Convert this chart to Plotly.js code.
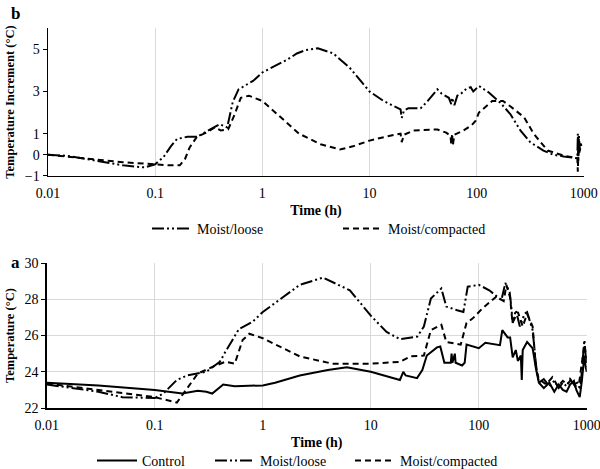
<!DOCTYPE html>
<html>
<head>
<meta charset="utf-8">
<script src="https://cdn.plot.ly/plotly-3.0.1.min.js"></script>
<style>
  body { margin: 0; background: #fff; }
  #chart { width: 600px; height: 469px; }
</style>
</head>
<body>
<div id="chart"></div>
<script>
// panel b: temperature increment
const timeLooseB = [0.01, 0.015, 0.02, 0.03, 0.05, 0.08, 0.1, 0.12, 0.14, 0.16, 0.2, 0.245, 0.3, 0.4, 0.47, 0.53, 0.6, 0.7, 0.82, 1, 1.3, 1.7, 2.1, 2.5, 3.3, 4.6, 6.6, 10, 13.5, 19.5, 20, 21, 23, 30, 35, 43, 47, 55, 58, 59, 62, 66, 71, 81, 88, 93, 105, 130, 166, 206, 257, 317, 420, 520, 650, 870, 880, 890, 900, 920, 940, 950];
const incLooseB = [0.0, -0.05, -0.15, -0.3, -0.5, -0.6, -0.45, -0.1, 0.4, 0.75, 0.85, 0.85, 1.1, 1.45, 1.3, 2.5, 3.1, 3.3, 3.5, 3.9, 4.2, 4.5, 4.8, 4.95, 5.05, 4.8, 4.1, 3.0, 2.55, 2.15, 1.75, 2.1, 2.2, 2.2, 2.55, 3.1, 2.9, 2.7, 2.4, 2.7, 2.35, 2.8, 2.88, 3.15, 3.2, 3.0, 3.26, 2.95, 2.47, 1.93, 1.14, 0.59, 0.2, 0.0, -0.08, -0.17, 1.0, -0.3, 0.9, 0.2, 0.6, 0.3];

const timeCompB = [0.01, 0.02, 0.03, 0.05, 0.08, 0.1, 0.13, 0.17, 0.19, 0.21, 0.245, 0.3, 0.36, 0.41, 0.48, 0.55, 0.63, 0.75, 1, 1.43, 2.2, 3.5, 5.3, 7, 10, 14, 19.5, 20, 21, 25.8, 35, 43, 52, 57, 58, 59, 60, 62, 75, 90, 98, 105, 140, 176, 206, 245, 278, 340, 460, 650, 870, 880, 895, 910, 930];
const incCompB = [0.0, -0.15, -0.25, -0.35, -0.42, -0.45, -0.5, -0.5, -0.2, 0.35, 0.85, 1.05, 1.3, 1.15, 1.2, 1.9, 2.7, 2.8, 2.55, 1.85, 1.0, 0.5, 0.25, 0.4, 0.67, 0.85, 1.0, 0.6, 0.95, 1.15, 1.2, 1.2, 1.05, 0.9, 0.5, 1.0, 0.45, 0.95, 1.14, 1.4, 1.61, 2.0, 2.55, 2.55, 2.3, 2.0, 1.77, 1.0, 0.2, -0.04, -0.17, -0.8, 0.8, 0.1, 0.5];

// panel a: temperature
const timeControlA = [0.01, 0.03, 0.1, 0.18, 0.25, 0.3, 0.34, 0.43, 0.55, 1, 1.3, 2.2, 4, 6, 10, 18.6, 20, 21, 26.8, 30, 33, 41, 44, 48, 55, 56, 57, 60, 61, 70, 74, 77, 100, 115, 157, 165, 185, 195, 206, 220, 230, 245, 250, 255, 280, 315, 340, 360, 400, 450, 500, 550, 600, 650, 700, 760, 800, 860, 900, 950, 980, 1000];
const tempControlA = [23.4, 23.25, 23.0, 22.8, 22.95, 22.9, 22.8, 23.3, 23.2, 23.25, 23.4, 23.8, 24.1, 24.25, 24.0, 23.55, 24.0, 23.8, 23.65, 24.1, 24.9, 25.35, 25.4, 24.5, 24.5, 25.0, 24.5, 25.0, 24.5, 24.35, 24.5, 25.5, 25.3, 25.6, 25.47, 26.3, 25.9, 25.9, 24.8, 25.2, 24.6, 24.9, 23.55, 25.2, 25.65, 25.3, 24.1, 23.4, 23.1, 23.4, 22.9, 23.3, 23.0, 22.9, 23.3, 23.5, 23.0, 22.6, 23.5, 24.9, 24.2, 24.0];

const timeLooseA = [0.01, 0.03, 0.05, 0.1, 0.12, 0.16, 0.2, 0.3, 0.4, 0.45, 0.6, 0.8, 1, 2.2, 3.6, 6.4, 10, 14, 18.6, 27, 31, 36, 45, 50, 63, 72, 79, 100, 125, 162, 176, 193, 200, 206, 220, 240, 265, 280, 315, 340, 360, 400, 450, 500, 550, 600, 650, 700, 760, 820, 870, 900, 950, 1000];
const tempLooseA = [23.3, 22.9, 22.6, 22.55, 22.8, 23.55, 23.8, 24.0, 24.55, 25.1, 26.35, 26.75, 27.3, 28.8, 29.2, 28.5, 27.1, 26.2, 25.8, 25.95, 26.5, 28.05, 28.6, 27.6, 27.4, 27.3, 28.7, 28.8, 28.5, 27.96, 28.9, 28.4, 27.6, 26.7, 27.4, 26.5, 27.2, 27.3, 26.3, 24.3, 23.4, 23.6, 23.2, 23.5, 23.1, 23.4, 23.2, 23.6, 23.3, 23.4, 23.0, 24.1, 25.75, 24.3];

const timeCompA = [0.01, 0.05, 0.1, 0.16, 0.2, 0.25, 0.35, 0.45, 0.55, 0.65, 0.75, 1, 2.2, 4.4, 10, 18.6, 23.4, 31, 36, 45, 50, 68, 77, 88, 108, 145, 170, 180, 195, 205, 230, 255, 280, 315, 340, 360, 420, 480, 540, 600, 660, 720, 780, 850, 900, 950, 1000];
const tempCompA = [23.35, 22.8, 22.6, 22.3, 23.1, 23.9, 24.3, 24.55, 24.45, 25.75, 26.1, 25.85, 24.85, 24.45, 24.45, 24.55, 24.85, 24.9, 26.3, 26.6, 25.65, 25.5, 26.7, 26.95, 27.5, 28.15, 27.9, 28.8, 28.1, 26.7, 27.3, 26.5, 27.2, 26.5, 24.1, 23.6, 23.3, 23.7, 23.2, 23.5, 23.3, 23.6, 23.2, 23.4, 24.5, 25.5, 24.6];

const timeTicks = [0.01, 0.1, 1, 10, 100, 1000];
const timeTickText = ['0.01', '0.1', '1', '10', '100', '1000'];
const incTicks = [-1, 0, 1, 3, 5];
const incGrid = [1, 3, 5];
const tempTicks = [22, 24, 26, 28, 30];

const FONT = 'Liberation Serif';
const DASHDOTDOT = '12px,3px,2px,3px,2px,3px';
const DASHED = '6px,4px';

let trace = (x, y, name, dash, xa, ya, lg) => ({
  x: x, y: y, name: name, xaxis: xa, yaxis: ya, legend: lg,
  type: 'scatter', mode: 'lines',
  line: { color: '#000', width: 2, dash: dash }
});

let series = [
  trace(timeLooseB, incLooseB, 'Moist/loose', DASHDOTDOT, 'x', 'y', 'legend'),
  trace(timeCompB, incCompB, 'Moist/compacted', DASHED, 'x', 'y', 'legend2'),
  trace(timeControlA, tempControlA, 'Control', 'solid', 'x2', 'y2', 'legend3'),
  trace(timeLooseA, tempLooseA, 'Moist/loose', DASHDOTDOT, 'x2', 'y2', 'legend4'),
  trace(timeCompA, tempCompA, 'Moist/compacted', DASHED, 'x2', 'y2', 'legend5')
];

let xAxis = (domain, anchor) => ({
  type: 'log', range: [-2, 3], domain: domain, anchor: anchor,
  tickvals: timeTicks, ticktext: timeTickText, ticklabeloverflow: 'allow',
  ticklabelstandoff: 4,
  showgrid: true, gridcolor: '#d9d9d9', gridwidth: 1,
  showline: true, linecolor: '#000', linewidth: 1.5,
  ticks: '', zeroline: false,
  tickfont: { family: FONT, size: 14, color: '#000' },
  title: { text: '<b>Time (h)</b>', font: { family: FONT, size: 14, color: '#000' }, standoff: 5 }
});

let legendAt = (x, y) => ({
  x: x, y: y, xanchor: 'left', yanchor: 'middle', orientation: 'h',
  bgcolor: 'rgba(0,0,0,0)', itemwidth: 40, tracegroupgap: 0,
  font: { family: FONT, size: 14, color: '#000' }
});

let layout = {
  width: 600, height: 469,
  margin: { l: 0, r: 0, t: 0, b: 0, autoexpand: false },
  paper_bgcolor: '#fff', plot_bgcolor: '#fff',
  font: { family: FONT, color: '#000' },
  showlegend: true,
  xaxis: xAxis([0.08, 0.973], 'y'),
  yaxis: {
    range: [-1, 6], domain: [0.625, 0.94], anchor: 'x',
    tickvals: incTicks, showgrid: false, zeroline: false,
    showline: true, linecolor: '#000', linewidth: 1.5,
    ticks: 'outside', ticklen: 4, tickcolor: '#000',
    tickfont: { family: FONT, size: 14, color: '#000' },
    title: { text: '<b>Temperature Increment (°C)</b>', font: { family: FONT, size: 12.5, color: '#000' }, standoff: 7 }
  },
  yaxis3: {
    range: [-1, 6], overlaying: 'y', anchor: 'x',
    tickvals: incGrid, showgrid: true, gridcolor: '#d9d9d9',
    showticklabels: false, showline: false, zeroline: false, ticks: ''
  },
  xaxis2: xAxis([0.078, 0.978], 'y2'),
  yaxis2: {
    range: [22, 30], domain: [0.13, 0.439], anchor: 'x2',
    tickvals: tempTicks, showgrid: true, gridcolor: '#d9d9d9', zeroline: false,
    showline: true, linecolor: '#000', linewidth: 1.5,
    ticks: 'outside', ticklen: 4, tickcolor: '#000',
    tickfont: { family: FONT, size: 14, color: '#000' },
    title: { text: '<b>Temperature (°C)</b>', font: { family: FONT, size: 12.5, color: '#000' }, standoff: 7 }
  },
  legend: legendAt(147 / 600, 1 - 229 / 469),
  legend2: legendAt(338 / 600, 1 - 229 / 469),
  legend3: legendAt(92 / 600, 1 - 461 / 469),
  legend4: legendAt(210 / 600, 1 - 461 / 469),
  legend5: legendAt(350 / 600, 1 - 461 / 469),
  annotations: [
    { text: '<b>b</b>', x: 9 / 600, y: 1 - 2 / 469, xref: 'paper', yref: 'paper',
      xanchor: 'left', yanchor: 'top', showarrow: false, font: { family: FONT, size: 17, color: '#000' } },
    { text: '<b>a</b>', x: 9 / 600, y: 1 - 262 / 469, xref: 'paper', yref: 'paper',
      xanchor: 'left', yanchor: 'middle', showarrow: false, font: { family: FONT, size: 17, color: '#000' } }
  ]
};

Plotly.newPlot('chart', series, layout, { displayModeBar: false, staticPlot: true });
</script>
</body>
</html>
